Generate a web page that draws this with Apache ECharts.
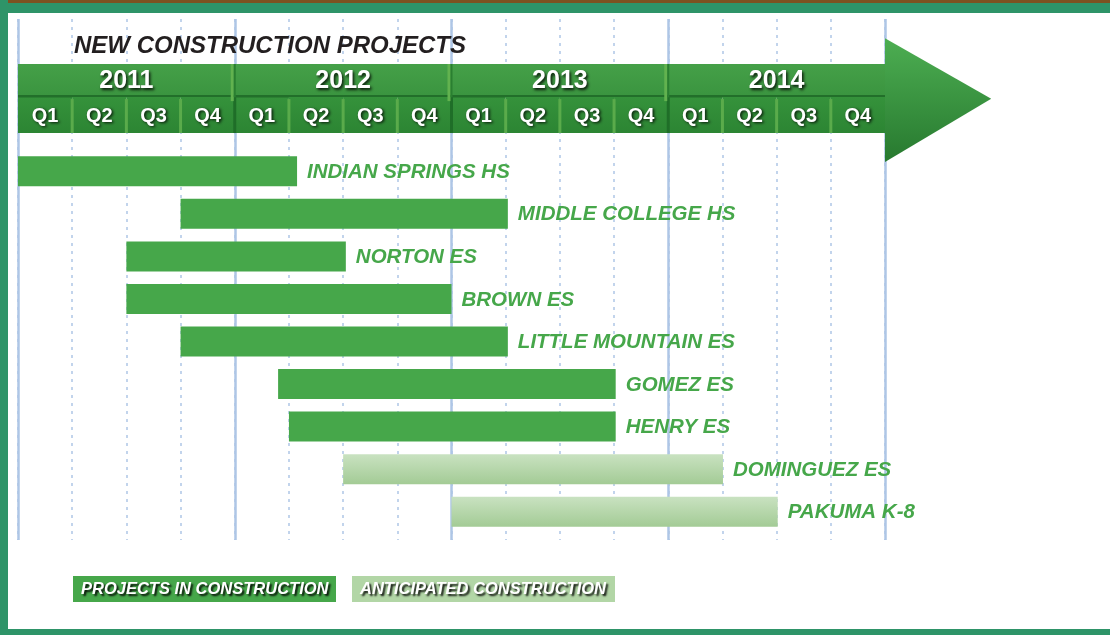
<!DOCTYPE html>
<html>
<head>
<meta charset="utf-8">
<script src="https://cdn.jsdelivr.net/npm/echarts@6/dist/echarts.min.js"></script>
<style>
  html, body { margin: 0; padding: 0; background: #fff; }
  #chart { width: 1110px; height: 635px; }
</style>
</head>
<body>
<div id="chart"></div>
<script>
// timeline in quarters, 0 = start of 2011 Q1
const years = ['2011', '2012', '2013', '2014'];
const quarters = ['Q1', 'Q2', 'Q3', 'Q4'];
const projects = ['INDIAN SPRINGS HS', 'MIDDLE COLLEGE HS', 'NORTON ES', 'BROWN ES',
    'LITTLE MOUNTAIN ES', 'GOMEZ ES', 'HENRY ES', 'DOMINGUEZ ES', 'PAKUMA K-8'];
const startQ = [0, 3, 2, 2, 3, 4.8, 5, 6, 8];
const endQ = [5.15, 9.04, 6.05, 8, 9.04, 11.03, 11.03, 13.01, 14.02];
const phase = ['built', 'built', 'built', 'built', 'built', 'built', 'built', 'planned', 'planned'];
const phaseNames = { built: 'PROJECTS IN CONSTRUCTION', planned: 'ANTICIPATED CONSTRUCTION' };

const FONT = '"Liberation Sans", Arial, sans-serif';
const HEAD_MID = 1.04;
const BAR_H = 30;

const chart = echarts.init(document.getElementById('chart'));

function rowsFor(p) {
    const out = [];
    projects.forEach((name, i) => {
        if (phase[i] === p) out.push([startQ[i], endQ[i], i]);
    });
    return out;
}

function barRenderer(fill) {
    return function (params, api) {
        const row = api.value(2);
        const a = api.coord([api.value(0), row]);
        const b = api.coord([api.value(1), row]);
        return {
            type: 'group',
            children: [
                { type: 'rect', shape: { x: a[0], y: a[1] - BAR_H / 2, width: b[0] - a[0], height: BAR_H }, style: { fill: fill } },
                {
                    type: 'text',
                    style: {
                        text: projects[row], x: b[0] + 10, y: a[1] + 1,
                        verticalAlign: 'middle', align: 'left',
                        font: 'italic bold 20.5px ' + FONT, fill: '#46a74a'
                    }
                }
            ]
        };
    };
}

const shadowTxt = { textShadowColor: 'rgba(0,0,0,0.85)', textShadowBlur: 3, textShadowOffsetX: 1.5, textShadowOffsetY: 1.5 };

function headerRenderer(params, api) {
    const q = api.value(0), yi = api.value(1), qi = api.value(2);
    const tl = api.coord([q, HEAD_MID]);
    const br = api.coord([q + 1, 0]);
    const kids = [];
    kids.push({
        type: 'rect', shape: { x: tl[0], y: tl[1], width: br[0] - tl[0], height: br[1] - tl[1] },
        style: { fill: new echarts.graphic.LinearGradient(0, 0, 0, 1, [{ offset: 0, color: '#35923b' }, { offset: 1, color: '#2c8533' }]) }
    });
    if (qi > 0) {
        kids.push({ type: 'rect', shape: { x: tl[0] - 1.5, y: tl[1] + 2, width: 3, height: br[1] - tl[1] - 2 }, style: { fill: '#5aab4b' } });
    } else if (q > 0) {
        kids.push({ type: 'rect', shape: { x: tl[0] - 1.5, y: tl[1], width: 3, height: br[1] - tl[1] }, style: { fill: '#1f6e28' } });
    }
    kids.push({
        type: 'text',
        style: Object.assign({
            text: quarters[qi], x: (tl[0] + br[0]) / 2, y: (tl[1] + br[1]) / 2 + 1,
            align: 'center', verticalAlign: 'middle', font: 'bold 20px ' + FONT, fill: '#fff'
        }, shadowTxt)
    });
    if (qi === 0) {
        const yt = api.coord([q, 2]);
        const yb = api.coord([q + 4, HEAD_MID]);
        kids.push({
            type: 'rect', shape: { x: yt[0], y: yt[1], width: yb[0] - yt[0], height: yb[1] - yt[1] },
            style: { fill: new echarts.graphic.LinearGradient(0, 0, 0, 1, [{ offset: 0, color: '#45a048' }, { offset: 1, color: '#3a943f' }]) }
        });
        kids.push({ type: 'rect', shape: { x: yt[0], y: yb[1] - 2, width: yb[0] - yt[0], height: 2.5 }, style: { fill: '#226f2a' } });
        if (q > 0) {
            kids.push({ type: 'rect', shape: { x: yt[0] - 4, y: yt[1], width: 3, height: yb[1] - yt[1] + 4 }, style: { fill: '#62b24f' } });
            kids.push({ type: 'rect', shape: { x: yt[0] - 1, y: yt[1], width: 2, height: yb[1] - yt[1] }, style: { fill: '#2a7f31' } });
        }
        kids.push({
            type: 'text',
            style: Object.assign({
                text: years[yi], x: (yt[0] + yb[0]) / 2, y: (yt[1] + yb[1]) / 2 + 1,
                align: 'center', verticalAlign: 'middle', font: 'bold 25px ' + FONT, fill: '#fff'
            }, shadowTxt)
        });
    }
    if (q === years.length * 4 - 1) {
        const p1 = api.coord([q + 1, 2.75]);
        const p2 = api.coord([q + 2.96, 0.99]);
        const p3 = api.coord([q + 1, -0.84]);
        kids.push({
            type: 'polygon', shape: { points: [p1, p2, p3] },
            style: { fill: new echarts.graphic.LinearGradient(0, 0, 0, 1, [{ offset: 0, color: '#4dae52' }, { offset: 1, color: '#27792f' }]) }
        });
    }
    return { type: 'group', children: kids };
}

const headerCells = [];
years.forEach((y, yi) => quarters.forEach((qq, qi) => headerCells.push([yi * 4 + qi, yi, qi])));

const total = years.length * 4;
const lineColor = '#aec6e6';

const option = {
    backgroundColor: '#fff',
    animation: false,
    title: {
        text: 'NEW CONSTRUCTION PROJECTS',
        left: 69, top: 29,
        textStyle: { fontFamily: FONT, fontSize: 24, fontWeight: 'bold', fontStyle: 'italic', color: '#231f20' }
    },
    legend: {
        left: 68, top: 576, padding: 0,
        icon: 'rect', itemWidth: 0, itemHeight: 0, itemGap: 11,
        selectedMode: false,
        textStyle: {
            fontFamily: FONT, fontSize: 16.5, fontWeight: 'bold', fontStyle: 'italic',
            color: '#fff', width: 247, padding: [5, 8, 4, 8],
            textShadowColor: 'rgba(0,0,0,0.9)', textShadowBlur: 2, textShadowOffsetX: 2, textShadowOffsetY: 2
        },
        data: [
            { name: phaseNames.built, textStyle: { backgroundColor: '#46a74a' } },
            { name: phaseNames.planned, textStyle: { backgroundColor: '#b2d6a6' } }
        ]
    },
    graphic: [
        { type: 'rect', shape: { x: 0, y: 0, width: 1110, height: 3 }, style: { fill: '#7d5220' } },
        { type: 'rect', shape: { x: 0, y: 3, width: 1110, height: 10 }, style: { fill: '#2e9468' } },
        { type: 'rect', shape: { x: 0, y: 0, width: 8, height: 635 }, style: { fill: '#2e9468' } },
        { type: 'rect', shape: { x: 0, y: 629, width: 1110, height: 6 }, style: { fill: '#2e9468' } }
    ],
    grid: [
        { left: 18, right: 225, top: 19, bottom: 95 },
        { left: 18, right: 225, top: 150, height: 383 },
        { left: 18, right: 225, top: 64, height: 69 }
    ],
    xAxis: [
        {
            gridIndex: 0, type: 'value', min: 0, max: total, interval: 1,
            axisLine: { show: false }, axisTick: { show: false }, axisLabel: { show: false },
            splitLine: { show: true, lineStyle: { color: lineColor, width: 1.5, type: [3, 5] } }
        },
        {
            gridIndex: 0, type: 'value', min: 0, max: total, interval: 4,
            axisLine: { show: false }, axisTick: { show: false }, axisLabel: { show: false },
            splitLine: { show: true, lineStyle: { color: lineColor, width: 2.5 } }
        },
        { gridIndex: 1, type: 'value', min: 0, max: total, show: false },
        { gridIndex: 2, type: 'value', min: 0, max: total, show: false }
    ],
    yAxis: [
        { gridIndex: 0, type: 'value', min: 0, max: 1, show: false },
        { gridIndex: 1, type: 'category', data: projects, inverse: true, show: false },
        { gridIndex: 2, type: 'value', min: 0, max: 2, show: false }
    ],
    series: [
        {
            name: phaseNames.built, type: 'custom', xAxisIndex: 2, yAxisIndex: 1,
            itemStyle: { color: '#46a74a' },
            encode: { x: [0, 1], y: 2 },
            renderItem: barRenderer('#46a74a'),
            data: rowsFor('built'), z: 3
        },
        {
            name: phaseNames.planned, type: 'custom', xAxisIndex: 2, yAxisIndex: 1,
            itemStyle: { color: '#b2d6a6' },
            encode: { x: [0, 1], y: 2 },
            renderItem: barRenderer(new echarts.graphic.LinearGradient(0, 0, 0, 1, [
                { offset: 0, color: '#c9e2c1' }, { offset: 1, color: '#a3cb95' }])),
            data: rowsFor('planned'), z: 3
        },
        {
            name: 'header', type: 'custom', xAxisIndex: 3, yAxisIndex: 2,
            encode: { x: 0 },
            renderItem: headerRenderer,
            data: headerCells, z: 5, silent: true
        }
    ]
};

chart.setOption(option);
</script>
</body>
</html>
